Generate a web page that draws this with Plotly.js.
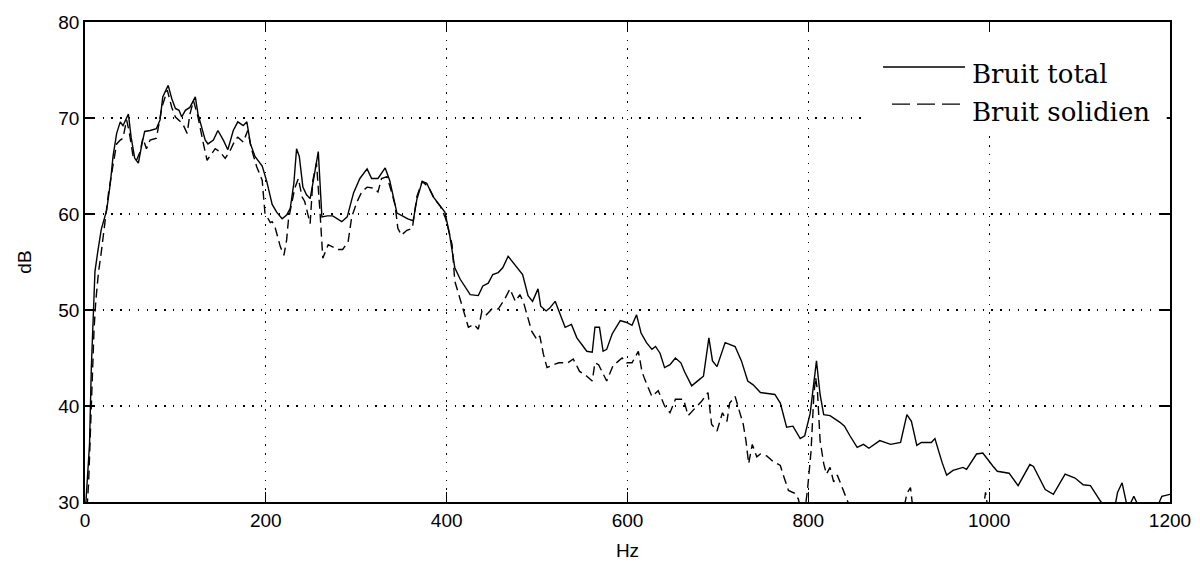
<!DOCTYPE html>
<html>
<head>
<meta charset="utf-8">
<script src="https://cdn.plot.ly/plotly-3.0.1.min.js"></script>
<style>html,body{margin:0;padding:0;background:#fff;}#chart{width:1200px;height:568px;}</style>
</head>
<body>
<div id="chart"></div>
<script>
// Bruit total (solid)
var freqTotal = [0,1,3,5,7,9,11,14,18,24,28,31,35,39,42,48,51,55,59,63,66,72,79,83,86,92,96,100,104,107,111,116,122,125,129,133,136,142,147,153,158,164,169,175,179,183,188,196,201,207,212,218,223,227,231,234,237,241,245,249,253,258,262,268,274,284,290,297,304,312,317,324,332,337,341,345,351,357,363,367,373,378,385,392,398,403,409,415,426,435,440,446,451,457,462,468,474,479,484,490,495,501,504,510,514,520,525,531,538,544,555,561,564,569,573,577,583,592,599,605,610,615,621,627,631,636,641,647,653,659,663,671,680,684,690,694,699,703,708,719,726,733,739,747,763,769,776,783,791,796,802,809,813,817,824,835,840,846,854,861,867,879,891,902,909,914,920,925,936,940,944,948,953,960,971,975,986,993,1004,1009,1022,1032,1045,1049,1062,1071,1084,1095,1104,1112,1123,1128,1139,1142,1147,1152,1156,1160,1164,1186,1191,1200];
var dbTotal = [29,30,33,36,44,50,54,56,58.4,60.4,63.2,66,68.4,69.6,69.2,70.4,68,65.8,65.3,67.3,68.6,68.7,68.9,69.8,72.2,73.4,72,71,70.8,70.1,70.8,71.1,72.2,70.4,69.1,67.7,67.3,67.7,68.7,67.7,66.7,68.7,69.6,69.2,69.6,67.3,66,65,63.4,61,60.2,59.5,59.9,60.6,63.2,66.8,66,62.8,62,61.6,63.7,66.5,59.7,59.8,59.8,59.2,59.7,62.2,63.7,64.7,63.7,63.7,64.8,63.5,61.8,60.1,59.8,59.5,59.3,61.5,63.4,63.2,61.8,60.9,60.2,58,54.4,53.2,51.6,51.5,52.5,52.8,53.7,53.9,54.4,55.6,54.9,54.2,53.7,51.5,50.9,52.2,50.4,49.9,50.2,50.9,49.7,48.2,48.5,47.1,45.7,45.6,48.2,48.2,45.7,45.9,47.5,48.9,48.7,48.4,49.5,47.6,46.6,45.9,46.2,45.5,44,44.3,45,44.5,43.6,42.1,42.8,43.1,47.1,44.7,44.1,45.2,46.6,46.2,44.7,42.6,42.2,41.4,41.2,40.3,37.8,37.9,36.6,36.9,39.2,44.7,41.2,39.1,39,38.3,37.9,36.9,35.7,36,35.6,36.4,36,36.2,39.1,38.4,35.9,36.2,36.2,36.6,35.3,34.1,32.8,33.3,33.6,33.4,35,35.1,33.75,33.2,33,31.7,33.9,33.7,31.3,30.8,32.9,32.5,31.8,31.7,30.1,29.5,29.5,31,32,29.8,29.8,30.6,29.8,29.5,30.6,30.8];

// Bruit solidien (dashed)
var freqSolid = [0,2,4,6,8,10,12,15,18,22,26,31,35,39,42,46,49,53,57,61,64,68,72,79,85,91,96,100,104,108,113,116,120,125,131,135,138,144,149,155,160,166,169,175,180,184,190,196,199,205,207,210,212,216,220,223,225,229,232,236,240,243,247,249,252,256,260,262,263,269,274,280,285,291,295,301,306,312,319,324,328,334,339,343,346,350,356,362,367,373,380,387,393,399,406,409,415,419,424,430,435,439,444,450,457,464,470,476,481,485,490,494,500,503,507,511,518,524,534,540,547,555,561,564,568,577,584,594,599,605,612,616,619,627,634,641,647,653,662,667,675,682,689,693,699,705,710,713,719,723,728,731,734,738,743,747,754,760,769,773,778,785,789,792,796,799,803,806,808,810,813,817,820,824,828,832,837,844,848,905,909,913,916,993,996,999,1200];
var dbSolid = [28,29,32,38,44,48,51,54,56,59.4,62.2,65.1,67.3,67.7,67.9,69.8,68.5,66.1,65.6,66.5,67.9,66.8,67.7,67.9,71.1,72.9,71.1,70.1,69.8,69.4,68.4,70.4,71.8,70.1,67.3,65.6,66,66.8,66.5,65.8,66.5,67.7,68,67.5,68.7,66.8,64.9,63.5,60.1,59.1,59.2,58.7,58,56.6,55.7,57.3,59.4,61.1,62.7,63.7,61.8,61.3,59.7,59,63.5,65.3,60.1,56.9,55.4,56.8,56.6,56.3,56.3,57.1,59.7,61.3,62.3,62.8,62.7,62.3,63.7,63.9,62.3,60.9,58.5,57.8,58.3,58.5,61.8,63.4,62.8,61.5,60.8,59.5,56.8,53,51.1,49.7,48.2,48.5,48,49.9,49.5,50.1,50.1,51.1,52.2,50.9,51.6,50.8,49.2,47.8,46.9,47.3,45.4,44,44.3,44.5,44.5,44.9,43.6,43.1,42.6,44.5,44.3,42.6,44.2,45,44.5,44.5,45.7,43.6,42.8,41,41.6,40,39.3,40.7,40.7,39,39.8,40.5,41.4,38.1,37.4,39.3,38.4,40.3,41,39.8,38.1,36.4,34,36,34.7,35,34.8,34.3,33.8,32.6,31.2,30.9,30.3,29,29,31.2,35.3,41,43,41.7,36.4,34,32.9,33.6,32.1,32.8,31.6,30,29,29,30.9,31.5,29,29,31,29,29];

var seriesNames = ['Bruit total', 'Bruit solidien'];
var xTicks = [0, 200, 400, 600, 800, 1000, 1200];
var yTicks = [30, 40, 50, 60, 70, 80];

var traces = [
  {x: freqTotal, y: dbTotal, type: 'scatter', mode: 'lines', name: seriesNames[0],
   line: {color: '#000', width: 1.4}, showlegend: false, hoverinfo: 'x+y'},
  {x: freqSolid, y: dbSolid, type: 'scatter', mode: 'lines', name: seriesNames[1],
   line: {color: '#000', width: 1.4, dash: '9px,5px'}, showlegend: false, hoverinfo: 'x+y'}
];

var axisFont = {family: 'Liberation Sans, Arial, sans-serif', size: 19, color: '#000'};
var titleFont = {family: 'Liberation Sans, Arial, sans-serif', size: 19, color: '#000'};
var legFont = {family: 'DejaVu Serif, serif', size: 26, color: '#000'};

var layout = {
  width: 1200, height: 568,
  margin: {l: 85, r: 30, t: 22, b: 66},
  paper_bgcolor: '#fff', plot_bgcolor: '#fff',
  showlegend: false,
  xaxis: {
    range: [0, 1200], tickvals: xTicks, ticktext: xTicks.map(String),
    showgrid: true, gridcolor: '#000', gridwidth: 1.3, griddash: '1.3px,7.5px',
    zeroline: false, showline: true, linecolor: '#000', linewidth: 1.8, mirror: 'ticks',
    ticks: 'inside', ticklen: 10, tickwidth: 1.2, tickcolor: '#000',
    tickfont: axisFont, title: {text: 'Hz', font: titleFont, standoff: 14}
  },
  yaxis: {
    range: [30, 80], tickvals: yTicks, ticktext: yTicks.map(String),
    showgrid: true, gridcolor: '#000', gridwidth: 1.3, griddash: '1.3px,7.5px',
    zeroline: false, showline: true, linecolor: '#000', linewidth: 1.8, mirror: 'ticks',
    ticks: 'inside', ticklen: 10, tickwidth: 1.2, tickcolor: '#000',
    tickfont: axisFont, title: {text: 'dB', font: titleFont, standoff: 22}
  },
  shapes: [
    {type: 'rect', xref: 'paper', yref: 'paper', x0: 0.7198, x1: 0.997, y0: 0.775, y1: 0.975,
     fillcolor: '#fff', line: {width: 0}, layer: 'above'},
    {type: 'line', xref: 'paper', yref: 'paper', x0: 0.7355, x1: 0.8111, y0: 0.9062, y1: 0.9062,
     line: {color: '#000', width: 1.4}, layer: 'above'},
    {type: 'line', xref: 'paper', yref: 'paper', x0: 0.7438, x1: 0.8092, y0: 0.829, y1: 0.829,
     line: {color: '#000', width: 1.4, dash: '18px,7px'}, layer: 'above'}
  ],
  annotations: [
    {xref: 'paper', yref: 'paper', x: 0.8157, y: 0.8917, xanchor: 'left', yanchor: 'middle',
     text: seriesNames[0], showarrow: false, font: legFont},
    {xref: 'paper', yref: 'paper', x: 0.8157, y: 0.8125, xanchor: 'left', yanchor: 'middle',
     text: seriesNames[1], showarrow: false, font: legFont}
  ]
};

Plotly.newPlot('chart', traces, layout, {displayModeBar: false, staticPlot: true});
</script>
</body>
</html>
